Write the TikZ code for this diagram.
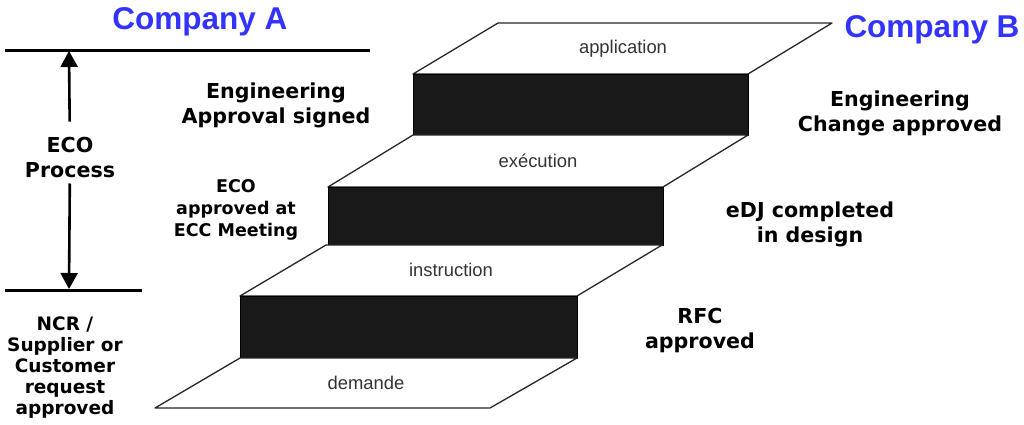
\documentclass[tikz,border=0pt]{standalone}
\usepackage{fontspec}
\setmainfont{DejaVu Sans}
\newfontfamily\arialfont{Liberation Sans}
\usetikzlibrary{arrows.meta}
\definecolor{companyblue}{RGB}{51,51,255}
\tikzset{
  company/.style={font=\arialfont\bfseries\fontsize{31.5}{36}\selectfont, text=companyblue},
  milestone/.style={font=\bfseries\fontsize{20.6}{25}\selectfont, align=center, inner sep=2pt},
  tread/.style={fill=white, draw=black!85, line width=1.3pt, line join=round},
  riser/.style={fill=black!90, draw=black, line width=1pt},
  steplabel/.style={font=\arialfont\fontsize{18.4}{22}\selectfont, text=black!80},
  bar/.style={line width=3pt},
  ecoarrow/.style={-{Triangle[length=16pt,width=17pt]}, line width=2.6pt},
}
\begin{document}
\begin{tikzpicture}[x=1pt, y=-1pt]
  \fill[white] (0,0) rectangle (1024,424);
  % Company headers
  \node[company] (companyA) at (200,22) {Company A};
  \node[company] (companyB) at (932,30) {Company B};
  % Staircase: treads and risers, top step first
  \draw[tread] (498,23) -- (832,23) -- (748,74) -- (413,74) -- cycle;
  \draw[riser] (413,74) rectangle (748,135);
  \draw[tread] (413,135) -- (748,135) -- (663,187) -- (328,187) -- cycle;
  \draw[riser] (328,187) rectangle (663,245);
  \draw[tread] (326,245) -- (662,245) -- (577,296) -- (240,296) -- cycle;
  \draw[riser] (240,296) rectangle (577,358);
  \draw[tread] (240,358) -- (577,358) -- (490,408) -- (155,408) -- cycle;
  \node[steplabel] (application) at (623,49) {application};
  \node[steplabel] (execution) at (538,161) {exécution};
  \node[steplabel] (instruction) at (451,270) {instruction};
  \node[steplabel] (demande) at (366,383) {demande};
  % ECO process span
  \draw[bar] (5,50) -- (370,50);
  \draw[bar] (5,290) -- (142,290);
  \coordinate (topbar) at (69,51);
  \coordinate (lowbar) at (69,289);
  \node[milestone] (eco) at (70,157) {ECO\\Process};
  \draw[ecoarrow, shorten <=13pt] (eco) -- (topbar);
  \draw[ecoarrow, shorten <=4pt] (eco) -- (lowbar);
  % Company A milestones
  \node[milestone] (engApproval) at (276,105) {Engineering\\Approval signed};
  \node[milestone, font=\bfseries\fontsize{17.5}{22}\selectfont] (eccMeeting) at (236,210) {ECO\\approved at\\ECC Meeting};
  \node[milestone, font=\bfseries\fontsize{18.5}{21}\selectfont] (ncr) at (65,368) {NCR /\\Supplier or\\Customer\\request\\approved};
  % Company B milestones
  \node[milestone] (engChange) at (900,113) {Engineering\\Change approved};
  \node[milestone] (edj) at (810,224) {eDJ completed\\in design};
  \node[milestone] (rfc) at (700,330) {RFC\\approved};
\end{tikzpicture}
\end{document}
